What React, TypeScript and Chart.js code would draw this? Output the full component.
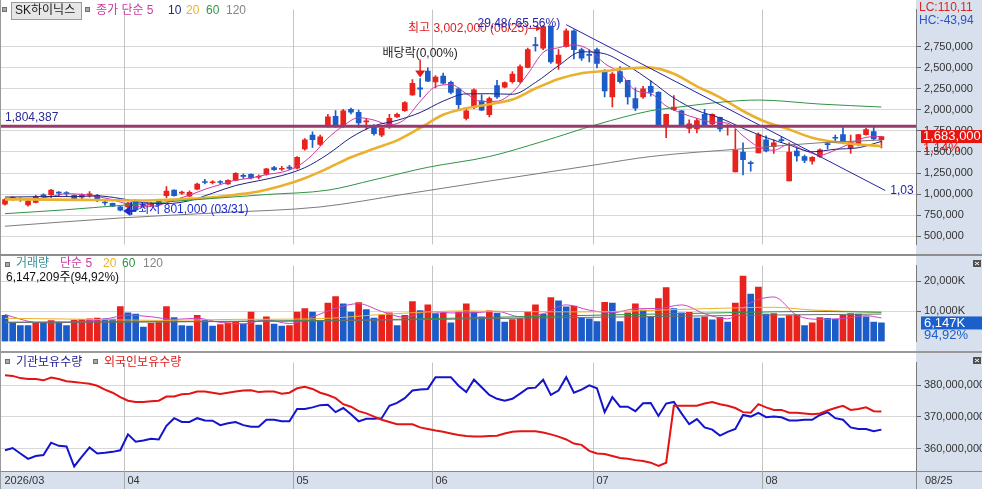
import { useEffect, useRef } from 'react';
import { Chart, registerables } from 'chart.js';

Chart.register(...registerables);

// ---- data ----
// prices in thousand won, volume in thousand shares, holdings in million shares
const monthLabels = ['2026/03', '04', '05', '06', '07', '08'];
const monthStarts = [0, 16, 38, 56, 77, 99]; // index of first trading day of each month
const lastDate = '08/25';

const opensK = [880, 950, 943, 873, 902, 988, 992, 1022, 1015, 986,
  964, 990, 986, 905, 891, 848, 848, 921, 860, 870,
  921, 981, 1047, 1012, 975, 1058, 1145, 1135, 1145, 1120,
  1163, 1215, 1236, 1200, 1236, 1315, 1295, 1320, 1308, 1537,
  1700, 1590, 1801, 1924, 1808, 2007, 1971, 1855, 1808, 1700,
  1808, 1917, 1989, 2177, 2260, 2460, 2330, 2399, 2326, 2250,
  1899, 2025, 2105, 1942, 2286, 2268, 2333, 2333, 2503, 2775,
  2732, 2990, 2551, 2750, 2938, 2714, 2655, 2714, 2460, 2152,
  2453, 2351, 2134, 2152, 2279, 2207, 1808, 2003, 1989, 1780,
  1772, 1946, 1834, 1910, 1800, 1264, 1500, 1370, 1489, 1645,
  1562, 1645, 1155, 1511, 1446, 1391, 1446, 1595, 1670, 1706,
  1547, 1590, 1706, 1743, 1645];

const highsK = [946, 967, 957, 932, 986, 1003, 1058, 1030, 1030, 992,
  1003, 1030, 997, 921, 895, 858, 902, 935, 885, 902,
  930, 1090, 1050, 1036, 1040, 1130, 1174, 1160, 1160, 1170,
  1255, 1240, 1240, 1230, 1305, 1330, 1330, 1340, 1445, 1660,
  1740, 1700, 1946, 1992, 2007, 2020, 1997, 1900, 1826, 1790,
  1946, 1960, 2098, 2360, 2370, 2497, 2405, 2435, 2340, 2260,
  2025, 2250, 2177, 2152, 2351, 2333, 2453, 2533, 2732, 2859,
  3002, 2995, 2714, 2960, 2949, 2732, 2714, 2732, 2478, 2442,
  2514, 2351, 2260, 2279, 2345, 2215, 1950, 2170, 1995, 1880,
  1899, 2007, 1953, 1913, 1826, 1772, 1609, 1391, 1728, 1692,
  1645, 1681, 1609, 1547, 1464, 1446, 1536, 1627, 1699, 1790,
  1699, 1706, 1779, 1801, 1683];

const lowsK = [869, 924, 913, 858, 895, 957, 957, 975, 975, 921,
  943, 965, 910, 868, 850, 801, 830, 805, 845, 862,
  865, 957, 975, 997, 970, 1050, 1120, 1120, 1120, 1115,
  1155, 1185, 1180, 1180, 1225, 1280, 1280, 1290, 1300, 1520,
  1554, 1575, 1793, 1790, 1790, 1950, 1790, 1772, 1700, 1681,
  1780, 1910, 1982, 2170, 2152, 2333, 2260, 2305, 2188, 1989,
  1880, 2014, 1989, 1917, 2134, 2260, 2315, 2315, 2497, 2696,
  2714, 2550, 2478, 2742, 2605, 2587, 2569, 2497, 2152, 2033,
  2315, 2068, 1989, 2134, 2163, 1808, 1670, 1989, 1800, 1725,
  1725, 1800, 1808, 1743, 1700, 1264, 1228, 1272, 1489, 1500,
  1482, 1609, 1155, 1391, 1373, 1355, 1435, 1536, 1627, 1609,
  1482, 1572, 1699, 1645, 1547];

const closesK = [935, 955, 935, 921, 975, 981, 1047, 1012, 1005, 932,
  990, 997, 932, 895, 858, 810, 895, 812, 870, 895,
  873, 1036, 981, 1025, 1022, 1120, 1138, 1145, 1138, 1163,
  1247, 1210, 1193, 1210, 1300, 1290, 1305, 1305, 1435, 1645,
  1645, 1680, 1917, 1815, 1989, 1971, 1845, 1870, 1717, 1780,
  1899, 1946, 2087, 2315, 2245, 2340, 2388, 2315, 2207, 2062,
  1989, 2236, 1997, 2134, 2152, 2323, 2424, 2514, 2714, 2760,
  2986, 2569, 2649, 2938, 2714, 2612, 2645, 2551, 2225, 2424,
  2333, 2152, 2018, 2250, 2207, 1808, 1946, 2033, 1808, 1834,
  1873, 1808, 1946, 1772, 1808, 1518, 1410, 1362, 1706, 1511,
  1609, 1634, 1500, 1453, 1399, 1435, 1525, 1587, 1663, 1616,
  1616, 1706, 1764, 1656, 1683];

// moving averages as [index, value] samples
const priceMa5 = [[0, 940], [2, 942], [4, 944], [6, 972], [8, 1004], [10, 997], [12, 971], [14, 934], [16, 878], [18, 849],
  [20, 869], [22, 931], [24, 987], [26, 1057], [28, 1113], [30, 1166], [32, 1190], [34, 1232], [36, 1260], [38, 1327],
  [40, 1467], [42, 1664], [44, 1809], [46, 1907], [48, 1878], [50, 1822], [52, 1886], [54, 2098], [56, 2275], [58, 2299],
  [60, 2192], [62, 2098], [64, 2102], [66, 2206], [68, 2425], [70, 2680], [72, 2736], [74, 2771], [76, 2712], [78, 2549],
  [80, 2436], [82, 2230], [84, 2192], [86, 2046], [88, 1960], [90, 1899], [92, 1854], [94, 1841], [96, 1691], [98, 1561],
  [100, 1520], [102, 1592], [104, 1519], [106, 1462], [108, 1522], [110, 1601], [112, 1673], [114, 1685]];
const priceMa10 = [[0, 965], [3, 968], [6, 972], [9, 970], [12, 979], [15, 948], [18, 899], [21, 888], [24, 922], [27, 1011],
  [30, 1102], [33, 1159], [36, 1220], [39, 1314], [42, 1473], [45, 1671], [48, 1809], [51, 1875], [54, 1968], [57, 2103],
  [60, 2189], [63, 2191], [66, 2184], [69, 2324], [72, 2523], [75, 2688], [78, 2665], [81, 2524], [84, 2342], [87, 2140],
  [90, 1993], [93, 1904], [96, 1781], [99, 1671], [102, 1583], [105, 1502], [108, 1532], [111, 1550], [114, 1625]];
const priceMa20 = [[0, 938], [6, 935], [12, 930], [18, 925], [21, 934], [24, 943], [27, 962], [30, 993], [33, 1032], [36, 1099],
  [39, 1189], [42, 1307], [45, 1437], [48, 1538], [51, 1638], [54, 1785], [57, 1942], [60, 2019], [63, 2067], [66, 2121],
  [69, 2252], [72, 2366], [75, 2434], [78, 2460], [81, 2491], [84, 2500], [87, 2427], [90, 2279], [93, 2148], [96, 1986],
  [99, 1855], [102, 1767], [105, 1668], [108, 1618], [111, 1589], [114, 1568]];
const priceMa60 = [[0, 768], [8, 815], [15, 866], [25, 935], [34, 995], [42, 1047], [48, 1170], [55, 1318], [63, 1446],
  [70, 1627], [77, 1826], [84, 1989], [87, 2025], [94, 2098], [98, 2116], [106, 2068], [114, 2033]];
const priceMa120 = [[0, 619], [15, 717], [28, 780], [41, 848], [52, 1000], [63, 1155], [77, 1350], [84, 1446],
  [96, 1538], [106, 1609], [114, 1641]];

const refLevel = 1804387; // won
const trendLine = [[73, 3010], [114.5, 1043]];
const highIdx = 70;
const highDate = '06/25';
const lowIdx = 15;
const lowDate = '03/31';
const dividendIdx = 54;
const trendLabel = '29,48(-65,56%)';
const trendEndLabel = '1,03';
const lcText = 'LC:110,11';
const hcText = 'HC:-43,94';
const changeText = '1,14%';

const volumesK = [8700, 6000, 5300, 5250, 6300, 6200, 6900, 6400, 5300, 7100,
  7300, 7500, 7800, 7500, 7400, 11600, 9500, 9100, 4800, 6000,
  6300, 11600, 7900, 5300, 5100, 8700, 7100, 5100, 5600, 6200,
  6600, 5800, 9800, 5400, 8200, 5800, 5100, 5300, 9800, 10900,
  9800, 6900, 12800, 14900, 12500, 9800, 12900, 10600, 7800, 8800,
  9500, 5300, 8700, 13300, 10300, 12200, 9300, 9400, 6200, 9800,
  12500, 9800, 8200, 10200, 9400, 6400, 7300, 7600, 9800, 12200,
  9100, 14600, 13500, 11500, 11800, 7800, 7500, 6600, 13000, 12800,
  6600, 9500, 12500, 10400, 8200, 14300, 17900, 10900, 9500, 9700,
  7800, 8200, 7150, 8000, 6400, 12800, 21800, 15800, 18100, 9100,
  9300, 7800, 8600, 8800, 5300, 6200, 7950, 7700, 7400, 8800,
  9300, 9100, 8200, 6400, 6147.209];
const volRatioText = '94,92%';

const volMa5 = [[0, 9000], [2, 7400], [4, 6310], [7, 6210], [10, 6600], [13, 7440], [16, 8760], [19, 8200], [22, 7320],
  [25, 7720], [28, 6320], [31, 5860], [34, 7160], [37, 5960], [40, 8180], [43, 11060], [46, 12580], [49, 9980], [52, 8020],
  [55, 9960], [58, 9480], [61, 9540], [64, 10020], [67, 8180], [70, 9200], [73, 12180], [76, 10420], [79, 9540], [82, 10880],
  [85, 10980], [88, 12160], [91, 9220], [94, 7510], [97, 12960], [100, 14820], [103, 8720], [106, 7370], [109, 7610],
  [112, 8560], [114, 7830]];
const volMa20 = [[0, 7700], [10, 7400], [20, 7000], [30, 7340], [40, 7500], [50, 9120], [60, 10180], [62, 10090],
  [75, 9820], [90, 10820], [100, 11370], [105, 10460], [114, 9730]];
const volMa60 = [[0, 6400], [30, 6700], [50, 7300], [63, 8000], [80, 8900], [95, 9600], [105, 10000], [114, 9700]];
const volMa120 = [[0, 6300], [40, 6800], [63, 7600], [85, 8300], [100, 8800], [114, 9100]];

const instHold = [359.5, 360.2, 358.5, 356.8, 357.7, 358.0, 361.9, 360.9, 360.7, 354.4,
  357.5, 360.4, 358.5, 358.7, 359.0, 359.5, 364.5, 362.2, 362.6, 363.1,
  362.9, 367.2, 369.6, 368.4, 368.4, 369.6, 368.9, 368.8, 367.4, 368.0,
  368.4, 367.4, 366.9, 366.9, 369.1, 369.1, 368.6, 368.6, 372.5, 372.5,
  373.0, 373.7, 373.8, 371.5, 372.8, 370.8, 368.6, 369.4, 369.4, 369.6,
  373.5, 374.4, 375.9, 378.3, 378.6, 378.8, 382.5, 382.5, 382.5, 379.8,
  377.8, 381.7, 379.3, 376.9, 375.7, 375.1, 375.7, 377.3, 379.0, 379.2,
  381.7, 376.9, 378.3, 382.5, 377.6, 378.6, 379.9, 379.0, 371.5, 376.2,
  373.2, 373.2, 371.8, 374.3, 374.4, 370.3, 374.2, 374.7, 371.1, 367.7,
  369.3, 366.7, 366.0, 364.1, 365.3, 366.2, 370.6, 370.1, 371.3, 369.9,
  370.1, 369.9, 368.9, 368.9, 369.1, 369.1, 370.6, 371.5, 369.6, 369.1,
  366.7, 366.2, 366.2, 365.5, 366.0];
const foreignHold = [383.1, 382.9, 382.2, 381.9, 381.9, 381.5, 382.4, 381.9, 381.2, 381.0,
  380.7, 380.4, 379.8, 378.6, 377.6, 376.2, 375.1, 374.7, 374.7, 374.9,
  375.1, 376.4, 376.4, 377.1, 377.3, 378.0, 378.0, 377.6, 377.2, 377.6,
  378.0, 378.3, 378.4, 377.8, 378.0, 378.0, 377.3, 377.6, 379.0, 379.5,
  378.8, 377.6, 376.9, 375.9, 374.0, 373.2, 371.8, 371.1, 370.1, 369.1,
  368.4, 367.7, 367.7, 367.7, 366.7, 366.2, 365.7, 365.3, 364.8, 364.3,
  364.0, 363.8, 363.8, 364.0, 364.1, 364.8, 365.3, 365.5, 365.5, 365.5,
  365.1, 364.5, 363.8, 362.9, 361.6, 361.2, 359.3, 358.5, 358.3, 357.7,
  357.1, 356.8, 356.4, 356.1, 355.6, 354.6, 355.6, 373.5, 373.5, 373.5,
  373.5, 374.2, 374.7, 374.0, 373.5, 372.8, 371.5, 371.3, 374.0, 373.0,
  372.2, 372.2, 371.3, 371.3, 371.1, 370.8, 371.1, 372.0, 372.8, 373.5,
  372.2, 372.5, 373.0, 371.8, 371.7];

const priceTicks = [500, 750, 1000, 1250, 1500, 1750, 2000, 2250, 2500, 2750];
const volTicks = [10000, 20000];
const holdTicks = [360, 370, 380];

// ---- look ----
const FONT = "'Liberation Sans', 'Noto Sans CJK KR', sans-serif";
const RED = '#e8221c';
const BLUE = '#1c5cc8';
const MAGENTA = '#cc3aa0';
const NAVY = '#1f2484';
const GOLD = '#ebb12e';
const GREEN = '#2f9444';
const GRAY = '#858585';
const AXIS_BG = '#d7e0ec';
const GRID = '#d8d8d8';
const AXIS_W = 66;
const X_MIN = -0.65;
const X_MAX = 118.5;

const fmt = (n: number) => Math.round(n).toString().replace(/\B(?=(\d{3})+(?!\d))/g, ',');
const pts = (arr: number[][]) => arr.map(([x, y]) => ({ x, y }));
const idx = closesK.map((_, i) => i);

function text(ctx: CanvasRenderingContext2D, s: string, x: number, y: number, color: string, size = 12, align: CanvasTextAlign = 'left') {
  ctx.font = `${size}px ${FONT}`;
  ctx.fillStyle = color;
  ctx.textAlign = align;
  ctx.textBaseline = 'middle';
  ctx.fillText(s, x, y);
}

function marker(ctx: CanvasRenderingContext2D, x: number, y: number) {
  ctx.fillStyle = '#a8a8a8';
  ctx.fillRect(x, y, 5, 5);
  ctx.strokeStyle = '#707070';
  ctx.lineWidth = 1;
  ctx.strokeRect(x + 0.5, y + 0.5, 4, 4);
}

function closeIcon(ctx: CanvasRenderingContext2D, x: number, y: number) {
  ctx.fillStyle = '#505050';
  ctx.fillRect(x, y, 8, 7);
  ctx.strokeStyle = '#fff';
  ctx.lineWidth = 1;
  ctx.beginPath();
  ctx.moveTo(x + 2, y + 2); ctx.lineTo(x + 6, y + 5);
  ctx.moveTo(x + 6, y + 2); ctx.lineTo(x + 2, y + 5);
  ctx.stroke();
}

function seg(ctx: CanvasRenderingContext2D, x1: number, y1: number, x2: number, y2: number) {
  ctx.beginPath();
  ctx.moveTo(x1, y1);
  ctx.lineTo(x2, y2);
  ctx.stroke();
}

// background, month lines and left border, shared by the three panels
const frame = (stripH: number) => ({
  id: 'frame',
  beforeDraw(chart: any) {
    const { ctx, width, height, chartArea: a } = chart;
    ctx.save();
    ctx.fillStyle = '#fff';
    ctx.fillRect(0, 0, width, height);
    ctx.fillStyle = AXIS_BG;
    ctx.fillRect(a.right, 0, width - a.right, height);
    if (stripH) ctx.fillRect(0, a.bottom, width, stripH);
    ctx.restore();
  },
  beforeDatasetsDraw(chart: any) {
    const { ctx, chartArea: a, scales } = chart;
    ctx.save();
    ctx.strokeStyle = '#c4c4c4';
    ctx.lineWidth = 1;
    monthStarts.slice(1).forEach((m) => {
      const px = Math.round(scales.x.getPixelForValue(m - 0.5)) + 0.5;
      seg(ctx, px, a.top, px, a.bottom + stripH);
    });
    ctx.restore();
  },
  afterDraw(chart: any) {
    const { ctx, height } = chart;
    ctx.save();
    ctx.strokeStyle = '#9a9a9a';
    ctx.lineWidth = 1;
    seg(ctx, 0.5, 0, 0.5, height);
    ctx.restore();
  },
});

const yAxis = (min: number, max: number, vals: number[], label: (v: number) => string) => ({
  position: 'right',
  min,
  max,
  afterBuildTicks: (s: any) => { s.ticks = vals.map((value) => ({ value })); },
  afterFit: (s: any) => { s.width = AXIS_W; },
  ticks: { callback: (v: any) => label(Number(v)), font: { family: FONT, size: 11 }, color: '#333', padding: 3, autoSkip: false },
  grid: { color: GRID, tickLength: 5, tickColor: '#666' },
  border: { color: '#7a7a7a' },
});

const baseOptions = (y: any, bottomPad = 0) => ({
  responsive: false,
  animation: false,
  events: [],
  layout: { autoPadding: false, padding: { left: 0, right: 0, top: 0, bottom: bottomPad } },
  plugins: { legend: { display: false }, tooltip: { enabled: false } },
  scales: {
    x: { type: 'linear', min: X_MIN, max: X_MAX, display: false, offset: false },
    y,
  },
});

const maLine = (data: number[][], color: string, width = 1) => ({
  type: 'line',
  data: pts(data),
  borderColor: color,
  borderWidth: width,
  pointRadius: 0,
  cubicInterpolationMode: 'monotone',
  order: 2,
});

// ---- price panel ----
const priceOverlay = {
  id: 'priceOverlay',
  afterDatasetsDraw(chart: any) {
    const { ctx, chartArea: a, scales: { x, y } } = chart;
    ctx.save();
    // reference level
    const ry = y.getPixelForValue(refLevel / 1000);
    ctx.strokeStyle = '#9a3a6c';
    ctx.lineWidth = 3;
    seg(ctx, a.left, ry, a.right, ry);
    text(ctx, fmt(refLevel), 5, ry - 9, '#2a2a96', 12);

    // high
    const hx = x.getPixelForValue(highIdx);
    const hy = y.getPixelForValue(highsK[highIdx]) + 3;
    text(ctx, `최고 ${fmt(highsK[highIdx] * 1000)} (${highDate})`, hx - 15, hy, '#e01c1c', 12, 'right');
    ctx.strokeStyle = '#e01c1c';
    ctx.fillStyle = '#e01c1c';
    ctx.lineWidth = 1;
    seg(ctx, hx - 15, hy, hx - 4, hy);
    ctx.beginPath();
    ctx.moveTo(hx - 2, hy); ctx.lineTo(hx - 7, hy - 3); ctx.lineTo(hx - 7, hy + 3); ctx.closePath(); ctx.fill();

    // trend line labels
    const tx0 = x.getPixelForValue(trendLine[0][0]);
    const ty0 = y.getPixelForValue(trendLine[0][1]);
    text(ctx, trendLabel, tx0 - 6, ty0 - 1, '#2424a8', 12, 'right');
    const tx1 = x.getPixelForValue(trendLine[1][0]);
    const ty1 = y.getPixelForValue(trendLine[1][1]);
    text(ctx, trendEndLabel, tx1 + 5, ty1, '#2424a8', 12);

    // dividend marker
    const dx = x.getPixelForValue(dividendIdx);
    const tip = y.getPixelForValue(highsK[dividendIdx]) - 1;
    ctx.strokeStyle = '#e01c1c';
    ctx.fillStyle = '#e01c1c';
    ctx.lineWidth = 1.5;
    seg(ctx, dx, tip - 18, dx, tip - 5);
    ctx.beginPath();
    ctx.moveTo(dx - 5, tip - 7); ctx.lineTo(dx + 5, tip - 7); ctx.lineTo(dx, tip); ctx.closePath(); ctx.fill();
    text(ctx, '배당락(0,00%)', dx, tip - 24, '#222', 12, 'center');

    // low
    const lx = x.getPixelForValue(lowIdx);
    const ly = y.getPixelForValue(lowsK[lowIdx]);
    ctx.fillStyle = '#1a2acc';
    ctx.strokeStyle = '#1a2acc';
    ctx.lineWidth = 2;
    ctx.beginPath();
    ctx.moveTo(lx + 3, ly); ctx.lineTo(lx + 10, ly - 5); ctx.lineTo(lx + 10, ly + 5); ctx.closePath(); ctx.fill();
    seg(ctx, lx + 10, ly, lx + 16, ly);
    seg(ctx, lx + 11, ly - 9, lx + 11, ly + 4);
    text(ctx, `최저 ${fmt(lowsK[lowIdx] * 1000)} (${lowDate})`, lx + 18, ly - 1, '#1a2acc', 12);
    ctx.restore();
  },
  afterDraw(chart: any) {
    const { ctx, chartArea: a, scales: { y } } = chart;
    ctx.save();
    // legend
    marker(ctx, 2, 7);
    ctx.fillStyle = '#e6e6e6';
    ctx.fillRect(12, 3, 69, 16);
    ctx.strokeStyle = '#9a9a9a';
    ctx.lineWidth = 1;
    ctx.strokeRect(11.5, 2.5, 70, 17);
    text(ctx, 'SK하이닉스', 15, 11, '#1a1a1a', 12);
    marker(ctx, 85, 7);
    const parts: [string, string, number][] = [['종가 단순 5', MAGENTA, 96], ['10', NAVY, 168], ['20', GOLD, 186], ['60', GREEN, 206], ['120', GRAY, 226]];
    parts.forEach(([s, c, px]) => text(ctx, s, px, 11, c, 12));

    // right column extras
    text(ctx, lcText, a.right + 3, 7.5, '#d8281e', 12);
    text(ctx, hcText, a.right + 3, 20.5, '#2a55c8', 12);
    const last = closesK[closesK.length - 1];
    const by = y.getPixelForValue(last);
    ctx.fillStyle = '#e8150f';
    ctx.fillRect(a.right + 5, by - 6.5, AXIS_W - 5, 13);
    text(ctx, fmt(last * 1000), a.right + 7, by, '#fff', 13);
    text(ctx, changeText, a.right + 7, by + 12, '#e8150f', 13);
    ctx.restore();
  },
};

function priceConfig() {
  const colors = idx.map((i) => (closesK[i] >= opensK[i] ? RED : BLUE));
  return {
    type: 'bar',
    data: {
      datasets: [
        maLine(priceMa120, '#7c7c7c'),
        maLine(priceMa60, GREEN),
        maLine(priceMa20, GOLD, 2.6),
        maLine(priceMa10, NAVY),
        maLine(priceMa5, MAGENTA),
        { type: 'line', data: pts(trendLine), borderColor: '#2424a8', borderWidth: 1, pointRadius: 0, order: 1 },
        { type: 'bar', data: idx.map((i) => ({ x: i, y: [lowsK[i], highsK[i]] })), backgroundColor: colors, barThickness: 1, grouped: false, order: 6 },
        { type: 'bar', data: idx.map((i) => ({ x: i, y: [opensK[i], closesK[i]] })), backgroundColor: colors, barThickness: 5, minBarLength: 1, grouped: false, order: 5 },
      ],
    },
    options: baseOptions(yAxis(403.5, 3188.6, priceTicks, (v) => fmt(v * 1000))),
    plugins: [frame(0), priceOverlay],
  };
}

// ---- volume panel ----
const volOverlay = {
  id: 'volOverlay',
  afterDraw(chart: any) {
    const { ctx, chartArea: a, scales: { y } } = chart;
    ctx.save();
    marker(ctx, 5, 6);
    const parts: [string, string, number][] = [['거래량', '#35919a', 16], ['단순 5', MAGENTA, 60], ['20', GOLD, 103], ['60', GREEN, 122], ['120', GRAY, 143]];
    parts.forEach(([s, c, px]) => text(ctx, s, px, 8, c, 12));
    const last = volumesK[volumesK.length - 1];
    text(ctx, `${fmt(last * 1000)}주(${volRatioText})`, 6, 21.5, '#111', 12);
    closeIcon(ctx, 973, 4);
    const by = y.getPixelForValue(last);
    ctx.fillStyle = '#1a5fcc';
    ctx.fillRect(a.right + 5, by - 6.5, AXIS_W - 5, 13);
    text(ctx, `${fmt(last)}K`, a.right + 8, by, '#fff', 13);
    text(ctx, volRatioText, a.right + 8, by + 12.5, '#1a5fcc', 13);
    ctx.restore();
  },
};

function volConfig() {
  const colors = volumesK.map((v, i) => (i > 0 && v > volumesK[i - 1] ? RED : BLUE));
  return {
    type: 'bar',
    data: {
      datasets: [
        maLine(volMa120, '#6f6f6f'),
        maLine(volMa60, GREEN),
        maLine(volMa20, GOLD),
        maLine(volMa5, '#cc44c4'),
        { type: 'bar', data: idx.map((i) => ({ x: i, y: volumesK[i] })), backgroundColor: colors, barThickness: 6, order: 5 },
      ],
    },
    options: baseOptions(yAxis(0, 25260, volTicks, (v) => `${fmt(v)}K`)),
    plugins: [frame(0), volOverlay],
  };
}

// ---- holdings panel ----
const STRIP = 18;
const holdOverlay = {
  id: 'holdOverlay',
  afterDraw(chart: any) {
    const { ctx, chartArea: a, width, height, scales: { x } } = chart;
    ctx.save();
    marker(ctx, 5, 6);
    text(ctx, '기관보유수량', 16, 9.5, '#1c1c8e', 12);
    marker(ctx, 93, 6);
    text(ctx, '외국인보유수량', 104, 9.5, '#e01a1a', 12);
    closeIcon(ctx, 973, 4);

    // date strip
    ctx.strokeStyle = '#8a8a8a';
    ctx.lineWidth = 1;
    seg(ctx, 0, a.bottom + 0.5, width, a.bottom + 0.5);
    seg(ctx, a.right + 0.5, a.bottom, a.right + 0.5, height);
    ctx.strokeStyle = '#a8a8a8';
    monthStarts.forEach((m, k) => {
      const px = Math.round(x.getPixelForValue(m - 0.5)) + 0.5;
      if (k > 0) seg(ctx, px, a.bottom, px, height);
      text(ctx, monthLabels[k], Math.max(px, 1) + 3, a.bottom + 10, '#333', 11);
    });
    text(ctx, lastDate, a.right + 9, a.bottom + 10, '#333', 11);
    ctx.restore();
  },
};

function holdConfig() {
  return {
    type: 'line',
    data: {
      datasets: [
        { data: idx.map((i) => ({ x: i, y: foreignHold[i] })), borderColor: '#e51414', borderWidth: 2, pointRadius: 0, tension: 0 },
        { data: idx.map((i) => ({ x: i, y: instHold[i] })), borderColor: '#1414cc', borderWidth: 2, pointRadius: 0, tension: 0 },
      ],
    },
    options: baseOptions(yAxis(352.98, 387.08, holdTicks, (v) => `${fmt(v)},000,000`), STRIP),
    plugins: [frame(STRIP), holdOverlay],
  };
}

export default function App() {
  const priceRef = useRef<HTMLCanvasElement>(null);
  const volRef = useRef<HTMLCanvasElement>(null);
  const holdRef = useRef<HTMLCanvasElement>(null);

  useEffect(() => {
    const charts: Chart[] = [];
    if (priceRef.current) charts.push(new Chart(priceRef.current, priceConfig() as any));
    if (volRef.current) charts.push(new Chart(volRef.current, volConfig() as any));
    if (holdRef.current) charts.push(new Chart(holdRef.current, holdConfig() as any));
    return () => charts.forEach((c) => c.destroy());
  }, []);

  const abs = (top: number): React.CSSProperties => ({ position: 'absolute', left: 0, top });

  return (
    <div style={{ position: 'fixed', left: 0, top: 0, width: 982, height: 489, background: '#fff', overflow: 'hidden' }}>
      <canvas ref={priceRef} width={982} height={254} style={abs(0)} />
      <div style={{ ...abs(254), width: 982, height: 2, background: '#8e8e8e' }} />
      <canvas ref={volRef} width={982} height={95} style={abs(256)} />
      <div style={{ ...abs(351), width: 982, height: 2, background: '#9a9a9a' }} />
      <canvas ref={holdRef} width={982} height={136} style={abs(353)} />
    </div>
  );
}
